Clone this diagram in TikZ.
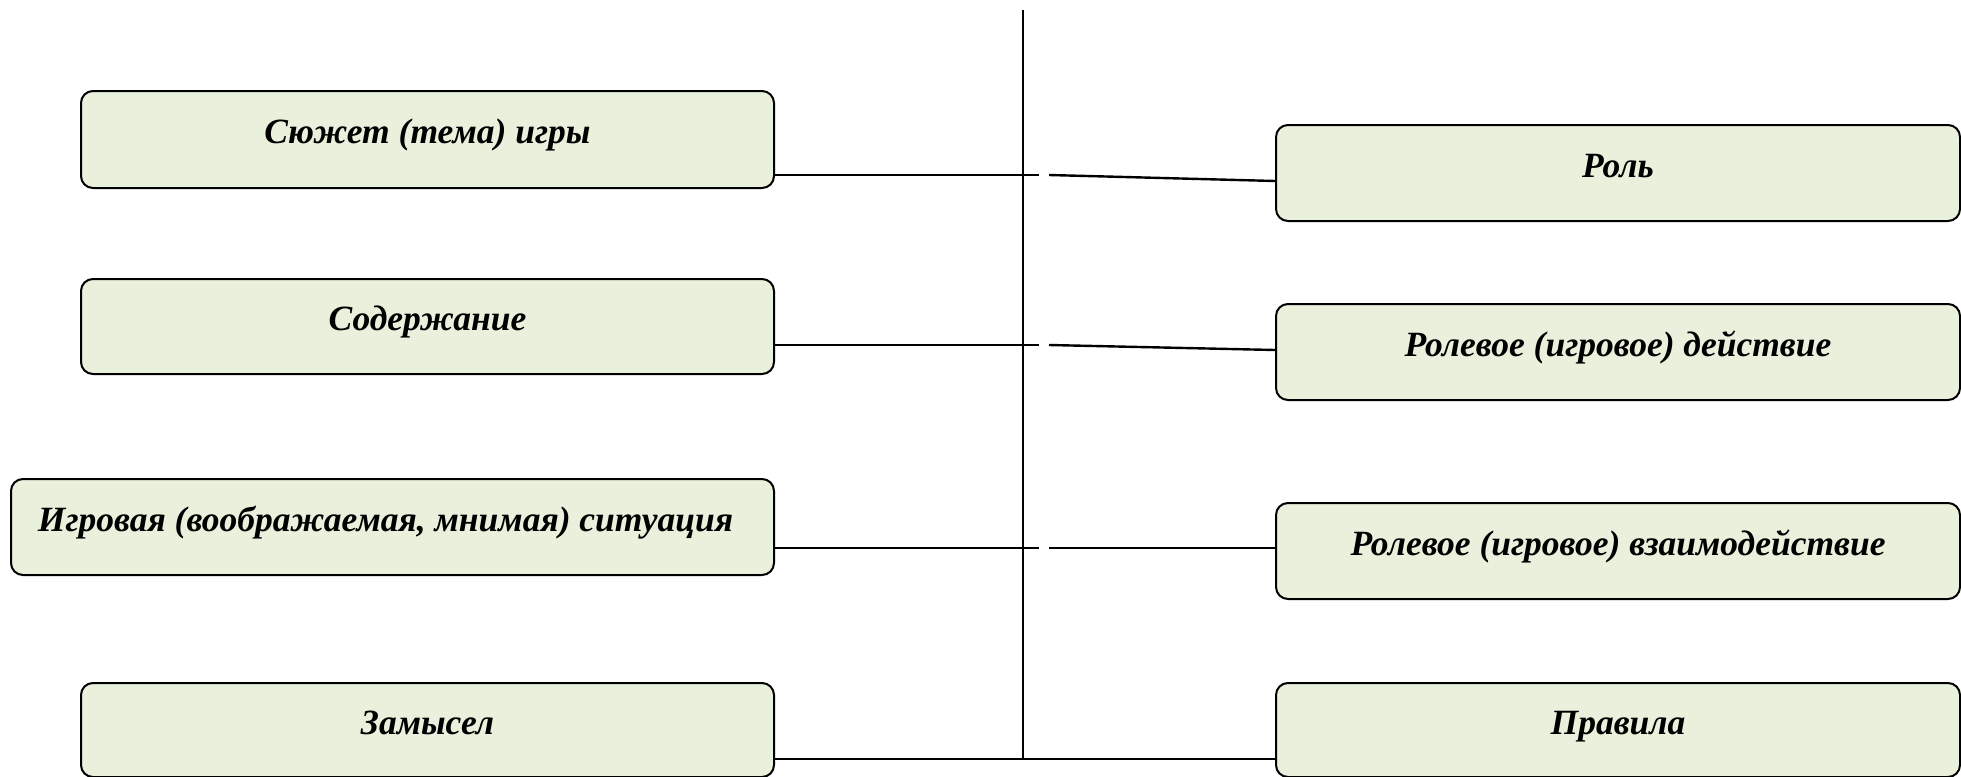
\documentclass[tikz,border=0pt]{standalone}
\usepackage{fontspec}
\setmainfont{Liberation Serif}
\definecolor{boxfill}{HTML}{E9F0DC}
\begin{document}
\begin{tikzpicture}[x=1pt,y=-1pt,
  box/.style={draw=black, line width=2pt, fill=boxfill, rounded corners=12pt,
    inner sep=0pt, text height=30pt, text depth=22pt,
    font=\fontsize{35.5}{40}\selectfont\bfseries\itshape},
  conn/.style={line width=2.4pt}]
\useasboundingbox (0,0) rectangle (1961,776);
% left boxes
\node[box, minimum width=693pt, minimum height=97pt] (b1) at (427.5,139.5) {Сюжет (тема) игры};
\node[box, minimum width=693pt, minimum height=95pt] (b2) at (427.5,326.5) {Содержание};
\node[box, minimum width=763pt, minimum height=96pt] (b3) at (392.5,527) {\hspace*{-14pt}Игровая (воображаемая, мнимая) ситуация};
\node[box, minimum width=693pt, minimum height=94pt] (b4) at (427.5,730) {Замысел};
% right boxes
\node[box, minimum width=684pt, minimum height=96pt] (r1) at (1618,173) {Роль};
\node[box, minimum width=684pt, minimum height=96pt] (r2) at (1618,352) {Ролевое (игровое) действие};
\node[box, minimum width=684pt, minimum height=96pt] (r3) at (1618,551) {Ролевое (игровое) взаимодействие};
\node[box, minimum width=684pt, minimum height=94pt] (r4) at (1618,730) {Правила};
% axis
\coordinate (top) at (1023,10);
\coordinate (bot) at (1023,759);
\draw[conn] (top) -- (bot);
% junction coordinates
\coordinate (l1) at (1039,175); \coordinate (m1) at (1049,175); \coordinate (e1) at (1276,181);
\coordinate (l2) at (1039,345); \coordinate (m2) at (1049,345); \coordinate (e2) at (1276,350);
\coordinate (l3) at (1039,548); \coordinate (m3) at (1049,548); \coordinate (e3) at (1276,548);
\coordinate (e4) at (1276,759);
\draw[conn] (b1.east |- l1) -- (l1);
\draw[conn] (m1) -- (r1.west |- e1);
\draw[conn] (b2.east |- l2) -- (l2);
\draw[conn] (m2) -- (r2.west |- e2);
\draw[conn] (b3.east |- l3) -- (l3);
\draw[conn] (m3) -- (r3.west |- e3);
\draw[conn] (b4.east |- bot) -- (r4.west |- e4);
\end{tikzpicture}
\end{document}
